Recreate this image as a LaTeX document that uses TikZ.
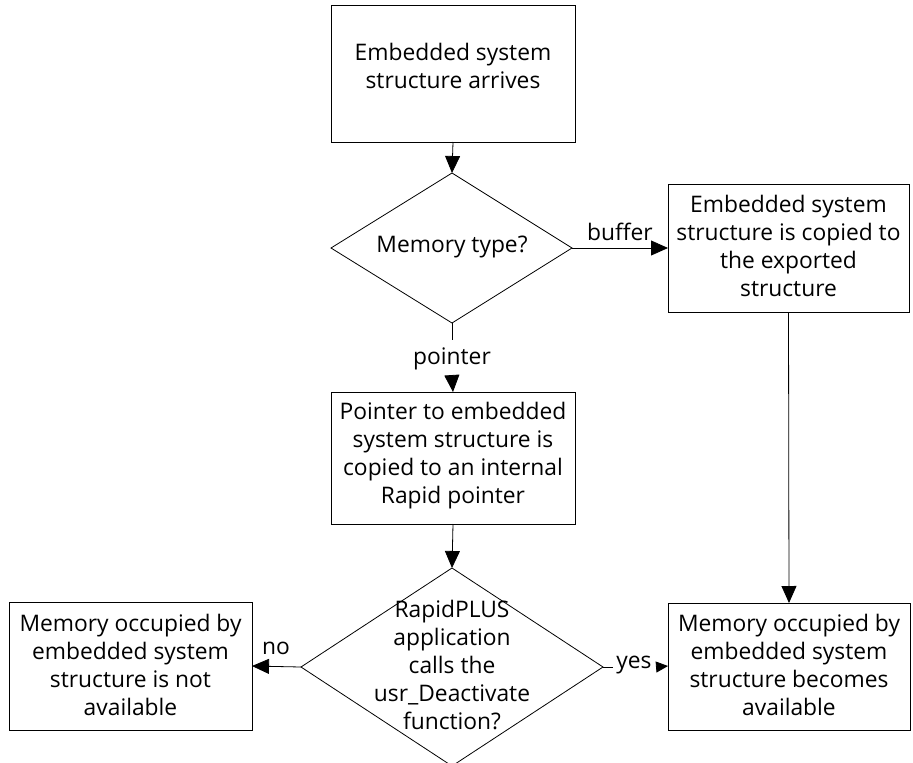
\documentclass[tikz,border=0pt]{standalone}
\usepackage{fontspec}
\setmainfont{Open Sans}
\usetikzlibrary{arrows.meta}
\begin{document}
\begin{tikzpicture}[x=1pt,y=-1pt,
  every node/.style={font=\fontsize{22.8}{28}\selectfont, align=center, inner sep=0pt},
  procbox/.style={draw, line width=0.8pt},
  decision/.style={draw, line width=0.8pt},
  flow/.style={line width=0.8pt, -{Triangle[length=17pt,width=15pt]}},
  plain/.style={line width=0.8pt}]
\useasboundingbox (0,0) rectangle (913,763);
\fill[white] (0,0) rectangle (913,763);

% process boxes
\draw[procbox] (331,5) rectangle (575,142);
\node (arrive) at (453,66) {Embedded system\\structure arrives};
\coordinate (arriveS) at (453,142);

\draw[procbox] (668,184) rectangle (909,312);
\node (copied) at (788.5,246) {Embedded system\\structure is copied to\\the exported\\structure};
\coordinate (copiedW) at (668,248);
\coordinate (copiedS) at (788.5,312);

\draw[procbox] (331,392) rectangle (575,524);
\node (ptr) at (453,456) {Pointer to embedded\\system structure is\\copied to an internal\\Rapid pointer};
\coordinate (ptrN) at (453,392);
\coordinate (ptrS) at (453,524);

\draw[procbox] (9,602) rectangle (252,730);
\node (notavail) at (130.5,665) {Memory occupied by\\embedded system\\structure is not\\available};
\coordinate (notavailE) at (252,666);

\draw[procbox] (668,603) rectangle (910,730);
\node (avail) at (789,665) {Memory occupied by\\embedded system\\structure becomes\\available};
\coordinate (availN) at (789,603);
\coordinate (availW) at (668,666);

% decisions
\coordinate (m1N) at (452,173);
\coordinate (m1E) at (572,248);
\coordinate (m1S) at (452,323);
\coordinate (m1W) at (331,248);
\draw[decision] (m1N) -- (m1E) -- (m1S) -- (m1W) -- cycle;
\node (memtype) at (452,247) {Memory type?};

\coordinate (d2N) at (452,568);
\coordinate (d2E) at (603,667);
\coordinate (d2S) at (452,766);
\coordinate (d2W) at (301,667);
\draw[decision] (d2N) -- (d2E) -- (d2S) -- (d2W) -- cycle;
\node (deact) at (452,665) {RapidPLUS\\application\\calls the\\usr\_Deactivate\\function?};

% connectors
\draw[flow] (arriveS) -- (m1N);
\draw[flow] (m1E) -- (copiedW);
\node (lbuf) at (620,232) {buffer};
\draw[plain] (m1S) -- (452,340);
\node (lptr) at (452,359) {pointer};
\coordinate (ptrArrowStart) at (452,377);
\draw[flow] (ptrArrowStart) -- (ptrN);
\draw[flow] (copiedS) -- (availN);
\draw[flow] (ptrS) -- (d2N);
\draw[flow] (d2W) -- (notavailE);
\node (lno) at (276,648) {no};
\draw[plain] (d2E) -- (613,667);
\node (lyes) at (634,665) {yes};
\draw[line width=0.8pt, -{Triangle[length=12pt,width=11pt]}] (656,667) -- (availW);
\end{tikzpicture}
\end{document}
